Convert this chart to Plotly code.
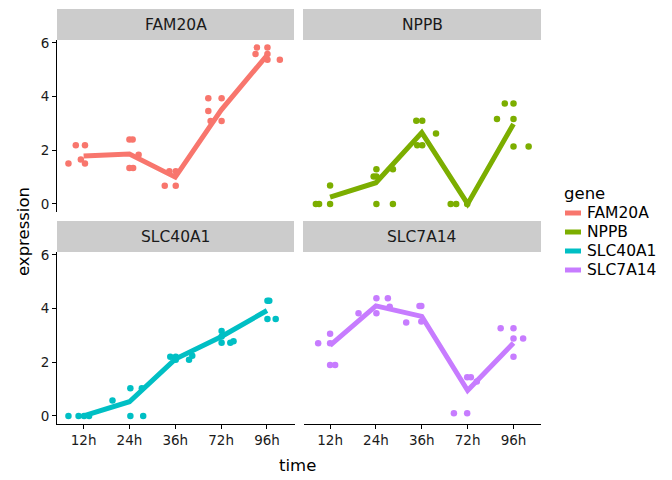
import plotly.graph_objects as go
from plotly.subplots import make_subplots

# time points (discrete axis) and genes
time_labels = ['12h', '24h', '36h', '72h', '96h']
time_pos = [1, 2, 3, 4, 5]
genes = ['FAM20A', 'NPPB', 'SLC40A1', 'SLC7A14']
gene_colors = ['#F8766D', '#7CAE00', '#00BFC4', '#C77CFF']

# jittered replicate points, x = jittered time position
fam20a_x = [0.67, 0.83, 0.94, 1.03, 1.03, 2.0, 2.07, 2.0, 2.08, 2.2,
            2.77, 2.87, 3.01, 3.01, 3.72, 4.01, 3.72, 3.77, 4.01,
            4.78, 5.01, 4.75, 5.01, 5.01, 5.28]
fam20a_y = [1.51, 2.19, 1.66, 2.19, 1.51, 2.40, 2.40, 1.34, 1.34, 1.83,
            0.68, 1.22, 1.22, 0.68, 3.94, 3.94, 3.46, 3.09, 3.09,
            5.83, 5.83, 5.59, 5.59, 5.37, 5.37]
nppb_x = [0.69, 0.76, 1.0, 1.0, 1.95, 2.01, 2.01, 2.37, 2.01, 2.37,
          2.88, 3.01, 3.31, 2.90, 3.01, 3.63, 3.75, 3.99,
          4.81, 5.0, 4.64, 5.0, 5.0, 5.33]
nppb_y = [0, 0, 0, 0.69, 1.02, 1.29, 1.02, 1.29, 0, 0,
          3.10, 3.10, 2.63, 2.19, 2.19, 0, 0, 0,
          3.74, 3.74, 3.17, 3.17, 2.14, 2.14]
slc40a1_x = [0.67, 0.89, 1.01, 1.12, 1.63, 2.02, 2.02, 2.30, 2.27,
             2.89, 3.01, 3.01, 3.30, 3.37, 4.01, 4.01, 4.20, 4.27, 4.01,
             5.01, 5.05, 5.01, 5.19]
slc40a1_y = [0, 0, 0, 0, 0.58, 1.03, 0, 0, 1.03,
             2.21, 2.21, 2.09, 2.09, 2.24, 3.17, 2.73, 2.73, 2.78, 2.96,
             4.29, 4.29, 3.61, 3.61]
slc7a14_x = [0.74, 1.0, 1.0, 1.0, 1.11, 1.62, 2.01, 2.26, 2.01, 2.30,
             2.66, 2.95, 2.99, 2.99, 3.70, 3.99, 3.99, 4.07, 4.20,
             4.72, 5.0, 5.0, 5.21, 5.0]
slc7a14_y = [2.71, 3.06, 2.71, 1.90, 1.90, 3.83, 4.39, 4.39, 3.83, 4.07,
             3.48, 4.10, 4.10, 3.52, 0.10, 0.10, 1.44, 1.44, 1.28,
             3.27, 3.27, 2.89, 2.89, 2.21]

# mean per time point (summary line)
fam20a_mean = [1.79, 1.86, 1.00, 3.50, 5.54]
nppb_mean = [0.25, 0.79, 2.66, 0.0, 2.98]
slc40a1_mean = [0.0, 0.53, 2.12, 2.95, 3.93]
slc7a14_mean = [2.63, 4.10, 3.71, 0.95, 2.72]

points_x = [fam20a_x, nppb_x, slc40a1_x, slc7a14_x]
points_y = [fam20a_y, nppb_y, slc40a1_y, slc7a14_y]
means = [fam20a_mean, nppb_mean, slc40a1_mean, slc7a14_mean]

# pixel frame of the panel area in the 672x480 page
L, R, T, B = 57, 541, 40, 424


def px(x):
    return (x - L) / (R - L)


def py(y):
    return (B - y) / (B - T)


FONT = 'DejaVu Sans'

fig = make_subplots(rows=2, cols=2, horizontal_spacing=9 / 484,
                    vertical_spacing=40 / 384)

for i, g in enumerate(genes):
    r, c = i // 2 + 1, i % 2 + 1
    fig.add_trace(go.Scatter(x=points_x[i], y=points_y[i], mode='markers',
                             marker=dict(color=gene_colors[i], size=6.5),
                             showlegend=False), row=r, col=c)
    fig.add_trace(go.Scatter(x=time_pos, y=means[i], mode='lines',
                             line=dict(color=gene_colors[i], width=5),
                             showlegend=False), row=r, col=c)

for i in range(4):
    r, c = i // 2 + 1, i % 2 + 1
    bottom = r == 2
    left = c == 1
    fig.update_xaxes(range=[0.42, 5.6], tickvals=time_pos, ticktext=time_labels,
                     showgrid=False, zeroline=False,
                     showline=bottom, linecolor='black', linewidth=1.1,
                     ticks='outside' if bottom else '', ticklen=4,
                     tickcolor='black', showticklabels=bottom,
                     tickfont=dict(family=FONT, size=13.5, color='#1a1a1a'),
                     row=r, col=c)
    fig.update_yaxes(range=[-0.30, 6.11], tickvals=[0, 2, 4, 6],
                     showgrid=False, zeroline=False,
                     showline=left, linecolor='black', linewidth=1.1,
                     ticks='outside' if left else '', ticklen=4,
                     tickcolor='black', showticklabels=left,
                     tickfont=dict(family=FONT, size=13.5, color='#1a1a1a'),
                     row=r, col=c)

# facet strips
strip_x = [(57, 294), (303, 541)]
strip_y = [(9, 40), (221, 252)]
shapes = []
annotations = []
for i, g in enumerate(genes):
    x0, x1 = strip_x[i % 2]
    y0, y1 = strip_y[i // 2]
    shapes.append(dict(type='rect', xref='paper', yref='paper',
                       x0=px(x0), x1=px(x1), y0=py(y1), y1=py(y0),
                       fillcolor='#cccccc', line=dict(width=0), layer='below'))
    annotations.append(dict(text=g, xref='paper', yref='paper',
                            x=px((x0 + x1) / 2), y=py((y0 + y1) / 2),
                            showarrow=False, xanchor='center', yanchor='middle',
                            font=dict(family=FONT, size=15.5, color='#1a1a1a')))

# axis titles
annotations.append(dict(text='time', xref='paper', yref='paper',
                        x=px(297), y=py(465), showarrow=False,
                        xanchor='center', yanchor='middle',
                        font=dict(family=FONT, size=16.5, color='black')))
annotations.append(dict(text='expression', xref='paper', yref='paper',
                        x=px(23), y=py(232), showarrow=False, textangle=-90,
                        xanchor='center', yanchor='middle',
                        font=dict(family=FONT, size=16.5, color='black')))

# legend drawn by hand to mimic ggplot keys
annotations.append(dict(text='gene', xref='paper', yref='paper',
                        x=px(562), y=py(193), showarrow=False,
                        xanchor='left', yanchor='middle',
                        font=dict(family=FONT, size=16.5, color='black')))
key_y = [213, 232, 251, 270]
for i, g in enumerate(genes):
    shapes.append(dict(type='line', xref='paper', yref='paper',
                       x0=px(565), x1=px(581), y0=py(key_y[i]), y1=py(key_y[i]),
                       line=dict(color=gene_colors[i], width=5)))
    annotations.append(dict(text=g, xref='paper', yref='paper',
                            x=px(585), y=py(key_y[i]), showarrow=False,
                            xanchor='left', yanchor='middle',
                            font=dict(family=FONT, size=15.5, color='black')))

fig.update_layout(width=672, height=480, plot_bgcolor='white',
                  paper_bgcolor='white', showlegend=False,
                  margin=dict(l=L, r=672 - R, t=T, b=480 - B),
                  shapes=shapes, annotations=annotations)

# page body has a default 8px margin; drop it so the figure sits at 0,0
fig.write_html("out.html", config={'displayModeBar': False},
               post_script="document.body.style.margin='0';")
